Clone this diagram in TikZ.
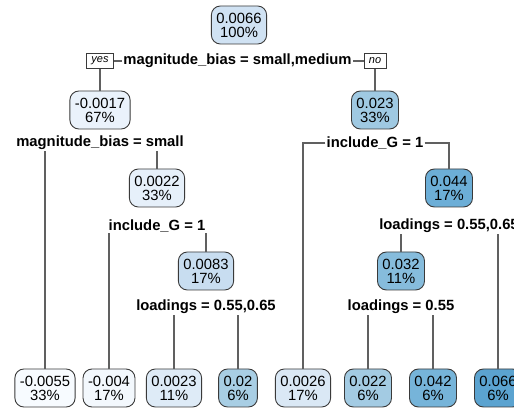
\documentclass[tikz,border=0pt]{standalone}
\usepackage{fontspec}
\setmainfont{Liberation Sans}
\definecolor{boxborder}{HTML}{3A3A3A}
\definecolor{edgec}{HTML}{606060}
\definecolor{cA}{HTML}{D0E2F3}
\definecolor{cB}{HTML}{EAF2FB}
\definecolor{cC}{HTML}{9FC9E2}
\definecolor{cD}{HTML}{E6F0FA}
\definecolor{cE}{HTML}{6CAED7}
\definecolor{cF}{HTML}{C8DDF0}
\definecolor{cG}{HTML}{86BCDC}
\definecolor{l1}{HTML}{F7FBFF}
\definecolor{l2}{HTML}{F3F8FD}
\definecolor{l3}{HTML}{DEEBF7}
\definecolor{l4}{HTML}{A8CEE4}
\definecolor{l5}{HTML}{DAE8F5}
\definecolor{l6}{HTML}{A3CBE3}
\definecolor{l7}{HTML}{76B4D9}
\definecolor{l8}{HTML}{5BA3D0}
\begin{document}
\begin{tikzpicture}[x=1pt,y=-1pt,
  box/.style={draw=boxborder, line width=0.9pt, rounded corners=9pt, align=center,
    inner xsep=5pt, inner ysep=0pt, minimum height=38pt,
    font=\fontsize{14.8}{14}\selectfont},
  lab/.style={font=\bfseries\fontsize{14.8}{16}\selectfont, inner sep=1pt},
  yn/.style={draw=boxborder, line width=0.7pt, font=\itshape\fontsize{11}{12}\selectfont,
    inner xsep=5pt, inner ysep=1.5pt, minimum height=15pt, fill=white},
  edge/.style={draw=edgec, line width=1.1pt}]
\useasboundingbox (0,0) rectangle (514,411);
% internal nodes
\node[box, fill=cA] (n1) at (239,25) {0.0066\\100\%};
\node[lab] (s1) at (237.5,61) {magnitude\_bias = small,medium};
\node[box, fill=cB] (n2) at (100,110) {-0.0017\\67\%};
\node[box, fill=cC] (n3) at (375,110) {0.023\\33\%};
\node[yn] (yes) at (100,61) {yes};
\node[yn] (no) at (375,61) {no};
\node[lab] (s2) at (100,143) {magnitude\_bias = small};
\node[lab] (s3) at (375,143) {include\_G = 1};
\node[box, fill=cD] (n5) at (157,188) {0.0022\\33\%};
\node[box, fill=cE] (n7) at (449,188) {0.044\\17\%};
\node[lab] (s5) at (157,226) {include\_G = 1};
\node[lab] (s7) at (449,226) {loadings = 0.55,0.65};
\node[box, fill=cF] (n11) at (206,271) {0.0083\\17\%};
\node[box, fill=cG] (n14) at (401,271) {0.032\\11\%};
\node[lab] (s11) at (206,307) {loadings = 0.55,0.65};
\node[lab] (s14) at (401,307) {loadings = 0.55};
% leaves
\node[box, fill=l1] (L1) at (45,388) {-0.0055\\33\%};
\node[box, fill=l2] (L2) at (109,388) {-0.004\\17\%};
\node[box, fill=l3] (L3) at (174,388) {0.0023\\11\%};
\node[box, fill=l4] (L4) at (238,388) {0.02\\6\%};
\node[box, fill=l5] (L5) at (303,388) {0.0026\\17\%};
\node[box, fill=l6] (L6) at (368,388) {0.022\\6\%};
\node[box, fill=l7] (L7) at (433,388) {0.042\\6\%};
\node[box, fill=l8] (L8) at (498,388) {0.066\\6\%};
% connectors
\draw[edge] (yes.east) -- (yes.east -| s1.west);
\draw[edge] (s1.east) -- (s1.east -| no.west);
\draw[edge] (yes.south) -- (n2.north);
\draw[edge] (no.south) -- (n3.north);
\draw[edge] (s2.south -| L1.north) -- (L1.north);
\draw[edge] (s2.south -| n5.north) -- (n5.north);
\draw[edge] (s3.west) -| (L5.north);
\draw[edge] (s3.east) -| (n7.north);
\draw[edge] (s5.south -| L2.north) -- (L2.north);
\draw[edge] (s5.south -| n11.north) -- (n11.north);
\draw[edge] (s7.south -| n14.north) -- (n14.north);
\draw[edge] (s7.south -| L8.north) -- (L8.north);
\draw[edge] (s11.south -| L3.north) -- (L3.north);
\draw[edge] (s11.south -| L4.north) -- (L4.north);
\draw[edge] (s14.south -| L6.north) -- (L6.north);
\draw[edge] (s14.south -| L7.north) -- (L7.north);
\end{tikzpicture}
\end{document}
